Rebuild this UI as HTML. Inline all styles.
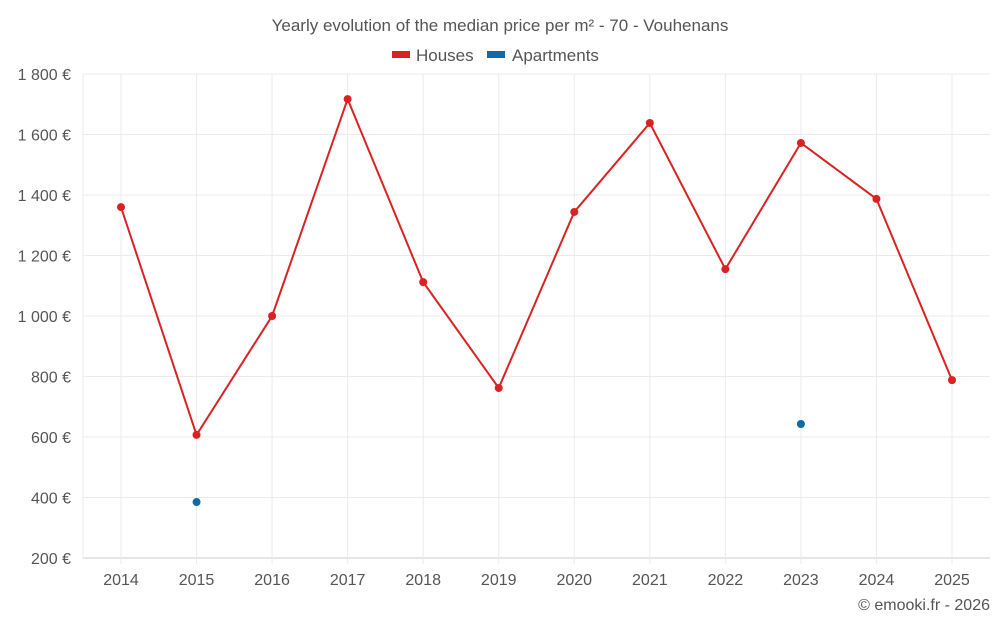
<!DOCTYPE html>
<html><head><meta charset="utf-8"><style>
body{margin:0;background:#fff;font-family:"Liberation Sans",sans-serif;}
svg text{font-family:"Liberation Sans",sans-serif;fill:#555;}
</style></head><body>
<svg width="1000" height="625">
<text x="500" y="31" text-anchor="middle" font-size="17">Yearly evolution of the median price per m² - 70 - Vouhenans</text>
<g>
<rect x="392" y="51" width="18" height="7" fill="#d92323"></rect>
<text x="416" y="61" font-size="17">Houses</text>
<rect x="487" y="51" width="18" height="7" fill="#0e6aa8"></rect>
<text x="512" y="61" font-size="17">Apartments</text>
</g>
<g id="grid"></g><g id="axes"></g><g id="marks"></g>
<text x="990" y="610" text-anchor="end" font-size="16">© emooki.fr - 2026</text>
</svg>
<script>
const years=[2014,2015,2016,2017,2018,2019,2020,2021,2022,2023,2024,2025];
const houses=[1360,607,1000,1717,1112,762,1344,1638,1155,1572,1387,788];
const apartments=[null,385,null,null,null,null,null,null,null,643,null,null];
const yTicks=[200,400,600,800,1000,1200,1400,1600,1800];
const NS='http://www.w3.org/2000/svg';
const L=83,R=990,T=74,B=558;
const x=i=>121+i*(952-121)/(years.length-1);
const y=v=>B-(v-200)*(B-T)/1600;
function mk(tag,attrs,parent){const e=document.createElementNS(NS,tag);for(const k in attrs)e.setAttribute(k,attrs[k]);document.getElementById(parent).appendChild(e);return e;}
yTicks.forEach(t=>{
 const l=mk('line',{x1:L,x2:R,y1:y(t),y2:y(t),stroke:t===200?'#ccc':'#ebebeb'},'grid');
 
 
 const tx=mk('text',{x:71,y:y(t)+6,'text-anchor':'end','font-size':16},'axes');
 tx.textContent=t.toLocaleString('fr-FR').replace(/\s/g,' ')+' €';
 
 
});
const vl=mk('line',{x1:L,x2:L,y1:T,y2:B,stroke:'#ebebeb'},'grid');


years.forEach((yr,i)=>{
 const l=mk('line',{x1:x(i),x2:x(i),y1:T,y2:B+6,stroke:'#ebebeb'},'grid');
 
 
 const tx=mk('text',{x:x(i),y:585,'text-anchor':'middle','font-size':16},'axes');
 tx.textContent=yr;
 
 
});
const pts=houses.map((v,i)=>x(i)+','+y(v)).join(' ');
const pl=mk('polyline',{points:pts,fill:'none',stroke:'#d92323','stroke-width':2},'marks');


houses.forEach((v,i)=>{
 const c=mk('circle',{cx:x(i),cy:y(v),r:4,fill:'#d92323'},'marks');
 
 
});
apartments.forEach((v,i)=>{
 if(v==null)return;
 const c=mk('circle',{cx:x(i),cy:y(v),r:4,fill:'#0e6aa8'},'marks');
 
 
});
</script>
</body></html>
